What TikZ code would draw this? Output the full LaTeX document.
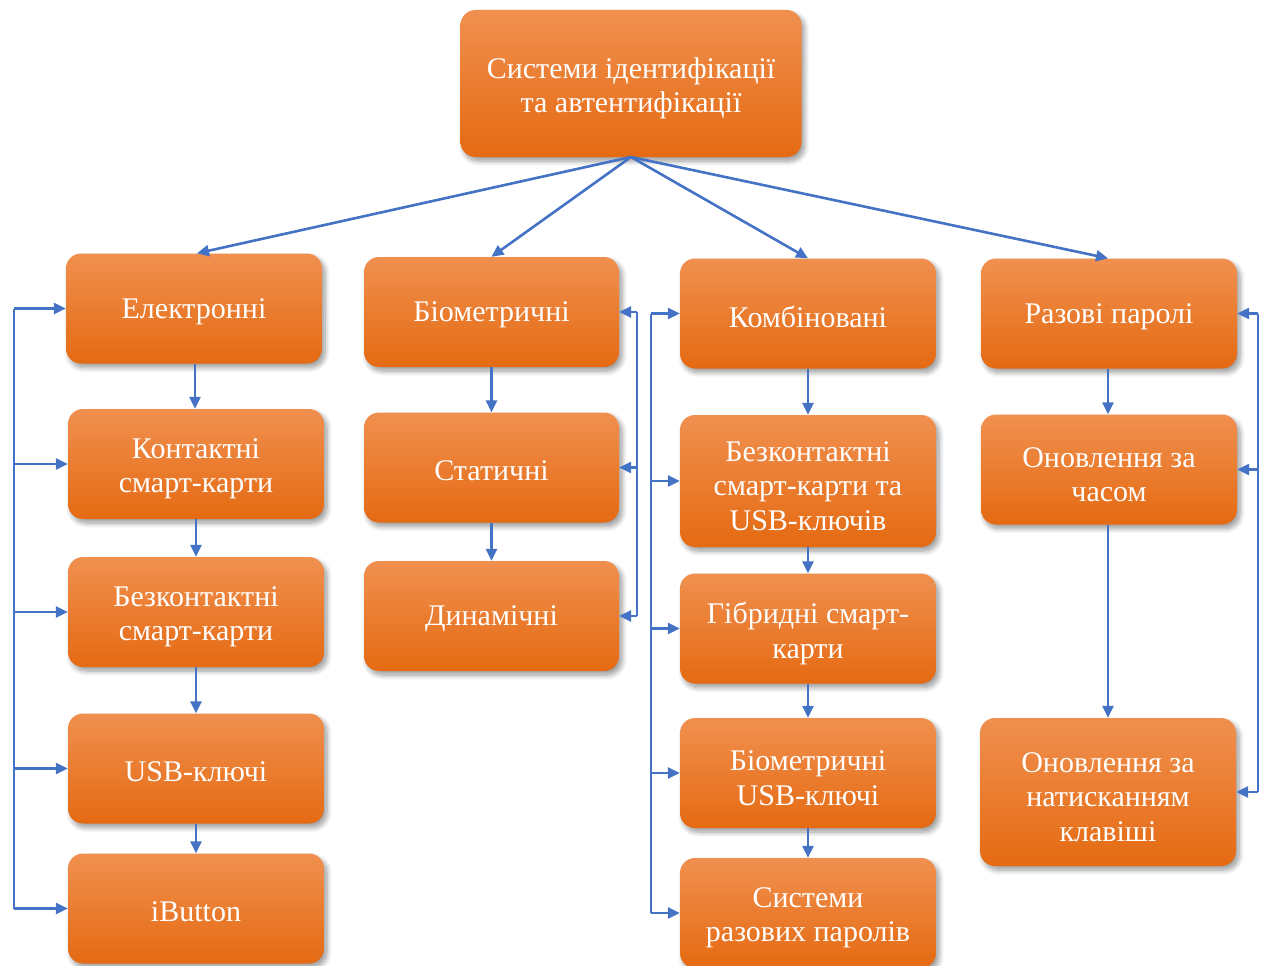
\documentclass[tikz,border=0pt]{standalone}
\usepackage{fontspec}
\setmainfont{Liberation Serif}
\usetikzlibrary{arrows.meta,shadows.blur}
\definecolor{ortop}{HTML}{F0904F}
\definecolor{ormid}{HTML}{F27C25}
\definecolor{orbot}{HTML}{E56A12}
\definecolor{lnblue}{HTML}{4472C4}
\tikzset{
  box/.style={rectangle, rounded corners=15pt, top color=ortop, middle color=ormid, bottom color=orbot,
    minimum width=256pt, minimum height=110pt,
    inner sep=0pt, blur shadow={shadow xshift=3pt, shadow yshift=-4pt, shadow blur steps=8, shadow blur radius=5pt, shadow opacity=40}},
  lbl/.style={text=white, align=center, font=\fontsize{30}{34.5}\selectfont, yshift=-5pt, inner sep=0pt},
  lbla/.style={lbl, yshift=2pt},
  conn/.style={draw=lnblue, line width=2.6pt, -{Triangle[length=12pt,width=11pt]}},
  plain/.style={draw=lnblue, line width=2.6pt}
}
\begin{document}
\begin{tikzpicture}[x=1pt,y=-1pt]
\useasboundingbox (0,0) rectangle (1269,966);
% top
\node[box, minimum width=341pt, minimum height=147pt, label={[lbl]center:Системи ідентифікації\\та автентифікації}] (top) at (631,83.5) {};
% row 1
\node[box, label={[lbla]center:Електронні}] (el) at (194,308.5) {};
\node[box, minimum width=255pt, label={[lbla]center:Біометричні}] (bio) at (491.5,312) {};
\node[box, label={[lbla]center:Комбіновані}] (kom) at (808,313.5) {};
\node[box, label={[lbla]center:Разові паролі}] (raz) at (1109,313.5) {};
% column 1
\node[box, label={[lbl]center:Контактні\\смарт-карти}] (kon) at (196,464) {};
\node[box, label={[lbl]center:Безконтактні\\смарт-карти}] (bez) at (196,612) {};
\node[box, label={[lbla]center:USB-ключі}] (usb) at (196,768.5) {};
\node[box, label={[lbla]center:iButton}] (ib) at (196,908.5) {};
% column 2
\node[box, minimum width=255pt, label={[lbla]center:Статичні}] (st) at (491.5,467.5) {};
\node[box, minimum width=255pt, label={[lbla]center:Динамічні}] (din) at (491.5,616) {};
% column 3
\node[box, minimum height=132pt, label={[lbl]center:Безконтактні\\смарт-карти та\\USB-ключів}] (bsu) at (808,481) {};
\node[box, label={[lbl]center:Гібридні смарт-\\карти}] (hib) at (808,628.5) {};
\node[box, label={[lbl]center:Біометричні\\USB-ключі}] (busb) at (808,773) {};
\node[box, label={[lbl]center:Системи\\разових паролів}] (srp) at (808,913) {};
% column 4
\node[box, label={[lbl]center:Оновлення за\\часом}] (och) at (1109,469.5) {};
\node[box, minimum height=148pt, label={[lbl]center:Оновлення за\\натисканням\\клавіші}] (onk) at (1108,792) {};
% top connectors
\coordinate (tp) at (631,157);
\draw[conn] (tp) -- ([xshift=3pt]el.north);
\draw[conn] (tp) -- (bio.north);
\draw[conn] (tp) -- (kom.north);
\draw[conn] (tp) -- ([xshift=-1pt]raz.north);
% vertical chains
\draw[conn] ([xshift=1pt]el.south) -- ([xshift=-1pt]kon.north);
\draw[conn] (kon.south) -- (bez.north);
\draw[conn] (bez.south) -- (usb.north);
\draw[conn] (usb.south) -- (ib.north);
\draw[conn] (bio.south) -- (st.north);
\draw[conn] (st.south) -- (din.north);
\draw[conn] (kom.south) -- (bsu.north);
\draw[conn] (bsu.south) -- (hib.north);
\draw[conn] (hib.south) -- (busb.north);
\draw[conn] (busb.south) -- (srp.north);
\draw[conn] ([xshift=-1pt]raz.south) -- ([xshift=-1pt]och.north);
\draw[conn] ([xshift=-1pt]och.south) -- (onk.north);
% bracket column 1
\coordinate (b1) at (14,0);
\draw[plain] (b1 |- el.west) -- (b1 |- ib.west);
\foreach \n in {el,kon,bez,usb,ib} \draw[conn] (b1 |- \n.west) -- (\n.west);
% bracket column 2
\coordinate (b2) at (637,0);
\draw[plain] (b2 |- bio.east) -- (b2 |- din.east);
\foreach \n in {bio,st,din} \draw[conn] (b2 |- \n.east) -- (\n.east);
% bracket column 3
\coordinate (b3) at (651,0);
\draw[plain] (b3 |- kom.west) -- (b3 |- srp.west);
\foreach \n in {kom,bsu,hib,busb,srp} \draw[conn] (b3 |- \n.west) -- (\n.west);
% bracket column 4
\coordinate (b4) at (1258,0);
\draw[plain] (b4 |- raz.east) -- (b4 |- onk.east);
\foreach \n in {raz,och,onk} \draw[conn] (b4 |- \n.east) -- (\n.east);
\end{tikzpicture}
\end{document}
